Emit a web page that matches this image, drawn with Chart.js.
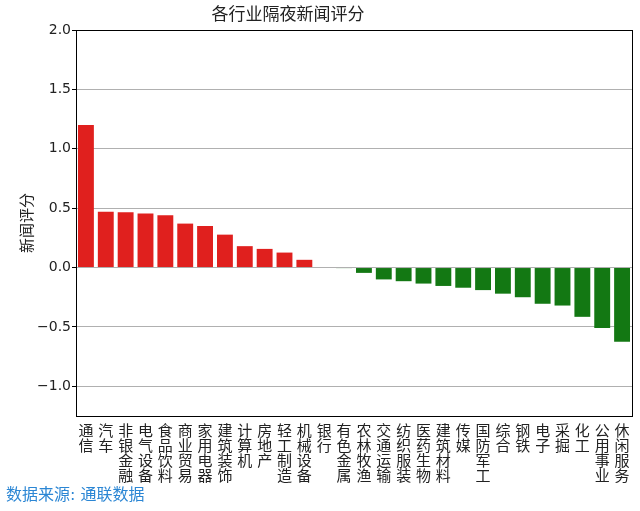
<!DOCTYPE html>
<html>
<head>
<meta charset="utf-8">
<script src="https://cdn.jsdelivr.net/npm/chart.js@4/dist/chart.umd.min.js"></script>
<style>
  body { margin: 0; background: #fff; }
  #wrap { width: 640px; height: 511px; }
</style>
</head>
<body>
<div id="wrap"><canvas id="barchart"></canvas></div>
<script>
var industries = ['通信', '汽车', '非银金融', '电气设备', '食品饮料', '商业贸易', '家用电器', '建筑装饰',
    '计算机', '房地产', '轻工制造', '机械设备', '银行', '有色金属', '农林牧渔', '交通运输', '纺织服装',
    '医药生物', '建筑材料', '传媒', '国防军工', '综合', '钢铁', '电子', '采掘', '化工', '公用事业', '休闲服务'];
var scores = [1.20, 0.47, 0.465, 0.455, 0.44, 0.37, 0.35, 0.277, 0.18, 0.157, 0.126, 0.065, 0.0, -0.005,
    -0.045, -0.10, -0.115, -0.135, -0.155, -0.17, -0.19, -0.22, -0.25, -0.305, -0.32, -0.415, -0.51, -0.625];
var yTicks = [-1.0, -0.5, 0.0, 0.5, 1.0, 1.5, 2.0];

var titleText = '各行业隔夜新闻评分';
var sourceText = '数据来源: 通联数据';
var cjk = "'DejaVu Sans', 'Noto Sans CJK SC', sans-serif";

// labels stacked one character per line
var vertLabels = industries.map(function (s) { return s.split(''); });
var barColors = scores.map(function (v) { return v >= 0 ? '#e0201e' : '#137813'; });

var frame = {
    id: 'frame',
    afterDraw: function (chart) {
        var ctx = chart.ctx, a = chart.chartArea;
        ctx.save();
        ctx.strokeStyle = '#000';
        ctx.lineWidth = 1;
        ctx.strokeRect(Math.round(a.left) + 0.5, Math.round(a.top) + 0.5,
            Math.round(a.right - a.left), Math.round(a.bottom - a.top));
        ctx.fillStyle = '#222';
        ctx.font = "17px " + cjk;
        ctx.textAlign = 'center';
        ctx.textBaseline = 'middle';
        ctx.fillText(titleText, 288, 16);
        ctx.fillStyle = '#2b86d4';
        ctx.font = "16px " + cjk;
        ctx.textAlign = 'left';
        ctx.fillText(sourceText, 6, 496);
        ctx.restore();
    }
};

var chart = new Chart(document.getElementById('barchart'), {
type: 'bar',
data: {
    labels: vertLabels,
    datasets: [{
        data: scores,
        backgroundColor: barColors,
        borderWidth: 0,
        barPercentage: 1.0,
        categoryPercentage: 0.8
    }]
},
options: {
    responsive: true,
    maintainAspectRatio: false,
    animation: false,
    layout: {
        padding: { top: 30, right: 8, left: 0, bottom: 0 }
    },
    scales: {
        x: {
            grid: { display: false },
            border: { display: false },
            ticks: {
                autoSkip: false,
                maxRotation: 0,
                minRotation: 0,
                padding: 1,
                color: '#222',
                font: { family: cjk, size: 15, lineHeight: 1.0 }
            },
            afterFit: function (scale) { scale.height = 95; }
        },
        y: {
            min: -1.25,
            max: 2.0,
            border: { display: false },
            grid: {
                color: '#b0b0b0',
                lineWidth: 1,
                drawTicks: true,
                tickLength: 4,
                tickColor: '#000'
            },
            ticks: {
                stepSize: 0.5,
                padding: 1,
                color: '#222',
                font: { family: cjk, size: 14 },
                callback: function (v) { return (v < 0 ? '\u2212' : '') + Math.abs(v).toFixed(1); }
            },
            afterBuildTicks: function (scale) {
                scale.ticks = yTicks.map(function (v) { return { value: v }; });
            },
            afterFit: function (scale) { scale.width = 76; },
            title: {
                display: true,
                text: '新闻评分',
                color: '#222',
                padding: { top: 19, bottom: 0 },
                font: { family: cjk, size: 15 }
            }
        }
    },
    plugins: {
        legend: { display: false },
        tooltip: { enabled: false }
    }
},
plugins: [frame]
});
</script>
</body>
</html>
